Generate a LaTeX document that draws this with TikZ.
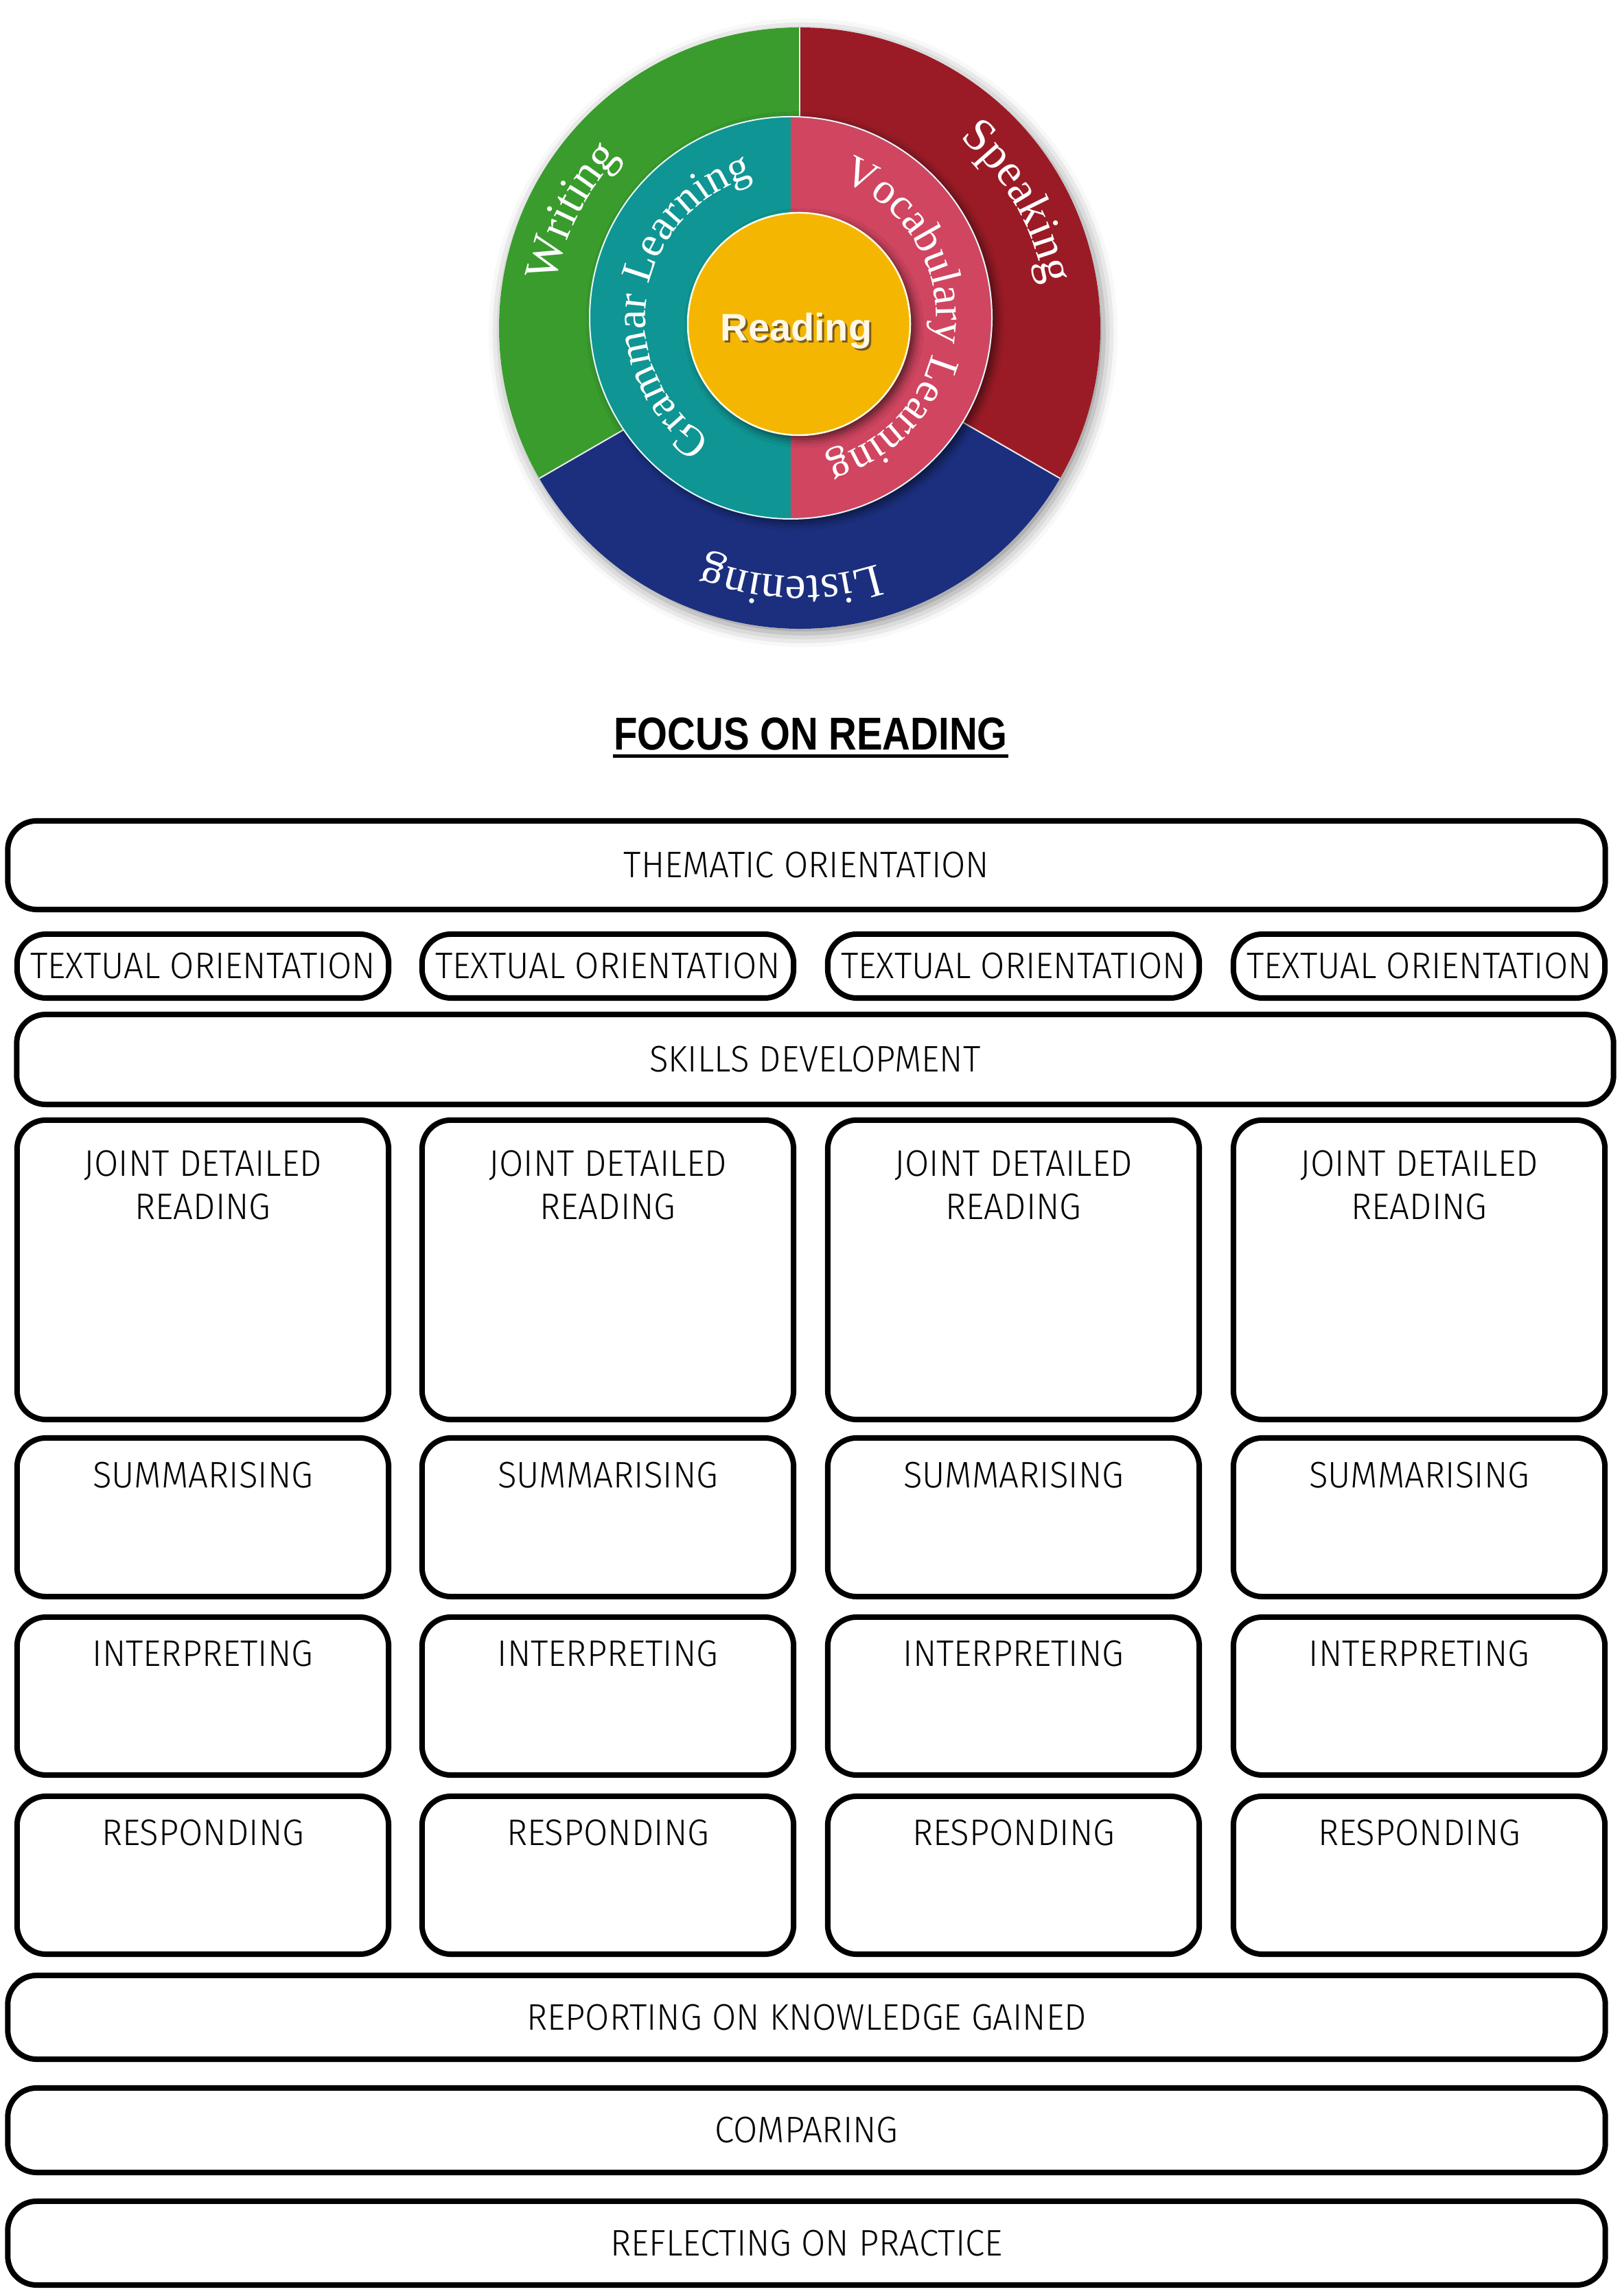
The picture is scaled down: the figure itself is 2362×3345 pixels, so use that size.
\documentclass[tikz,border=0pt]{standalone}
\usepackage{fontspec}
\setmainfont{Liberation Serif}
\newfontfamily\boxfont{Fira Sans Light}[FakeStretch=0.95]
\newfontfamily\titlefont{Liberation Sans}[FakeStretch=0.84]
\newfontfamily\readfont{Liberation Sans}
\usetikzlibrary{decorations.text,shadows.blur}
\definecolor{cgreen}{HTML}{399C2D}
\definecolor{cred}{HTML}{9A1B26}
\definecolor{cblue}{HTML}{1B2F7E}
\definecolor{cteal}{HTML}{0F9593}
\definecolor{cpink}{HTML}{D04560}
\definecolor{cyellow}{HTML}{F4B601}
\definecolor{ccream}{HTML}{FFF8E6}
\definecolor{cbrown}{HTML}{7A5A1E}
\newcommand\ringout{\rmfamily\fontsize{19.3pt}{20pt}\selectfont}
\newcommand\ringin{\rmfamily\fontsize{18pt}{19pt}\selectfont}
\begin{document}
\begin{tikzpicture}[x=0.01cm,y=0.01cm,
  box/.style={draw=black, line width=0.08cm, rounded corners=0.42cm, fill=white, inner sep=0pt,
    font=\boxfont\fontsize{15.3pt}{17.9pt}\selectfont, align=center},
  colbox/.style={box, minimum width=5.41cm},
  lbl/.style={font=\boxfont\fontsize{15.3pt}{17.9pt}\selectfont, inner sep=0pt, align=center, anchor=north},
  ringtext/.style={decorate, decoration={text along path, text align=center, text={#1}}},
]
\useasboundingbox (0,0) rectangle (2362,3345);

% ---------------- circle ----------------
\fill[white, blur shadow={shadow xshift=0.05cm, shadow yshift=-0.07cm, shadow blur radius=0.2cm, shadow opacity=45}]
  (1165,2867) circle[radius=438];
\fill[cgreen] (1165,2867) -- ++(90:438) arc[start angle=90, end angle=210, radius=438] -- cycle;
\fill[cred] (1165,2867) -- ++(-30:438) arc[start angle=-30, end angle=90, radius=438] -- cycle;
\fill[cblue] (1165,2867) -- ++(210:438) arc[start angle=210, end angle=330, radius=438] -- cycle;
\draw[white!85!gray, line width=0.02cm] (1165,2867) -- ++(90:438);
\draw[white!85!gray, line width=0.02cm] (1165,2867) -- ++(210:438);
\draw[white!85!gray, line width=0.02cm] (1165,2867) -- ++(330:438);

% inner ring
\fill[cteal, blur shadow={shadow xshift=0.07cm, shadow yshift=-0.05cm, shadow blur radius=0.12cm, shadow opacity=55}]
  (1152,2882) circle[radius=293];
\fill[cteal] (1152,2882) -- ++(90:293) arc[start angle=90, end angle=270, radius=293] -- cycle;
\fill[cpink] (1152,2882) -- ++(-90:293) arc[start angle=-90, end angle=90, radius=293] -- cycle;
\draw[white!90!cyan, line width=0.02cm] (1152,2882) circle[radius=293];

% yellow centre
\fill[cyellow, blur shadow={shadow xshift=0.07cm, shadow yshift=-0.06cm, shadow blur radius=0.12cm, shadow opacity=60}]
  (1164,2873) circle[radius=162];
\draw[white!90!yellow, line width=0.025cm] (1164,2873) circle[radius=162];

% ring texts
\path[ringtext={|\ringout\color{white}|Writing}]
  (1165,2867) ++(193:362) arc[start angle=193, end angle=113, radius=362];
\path[ringtext={|\ringout\color{white}|Speaking}]
  (1165,2867) ++(70:362) arc[start angle=70, end angle=-10, radius=362];
\path[ringtext={|\ringout\color{white}|Listening}]
  (1165,2867) ++(308:362) arc[start angle=308, end angle=228, radius=362];
\path[ringtext={|\ringin\color{white}|Grammar Learning}]
  (1152,2882) ++(255:212) arc[start angle=255, end angle=87, radius=212];
\path[ringtext={|\ringin\color{white}|Vocabulary Learning}]
  (1152,2882) ++(92:212) arc[start angle=92, end angle=-98, radius=212];

\node[font=\readfont\bfseries\fontsize{15.9pt}{16pt}\selectfont, text=cbrown, anchor=base, inner sep=0pt]
  (readsh) at (1163,2845) {Reading};
\node[font=\readfont\bfseries\fontsize{15.9pt}{16pt}\selectfont, text=ccream, anchor=base, inner sep=0pt]
  (reading) at (1160,2848) {Reading};

% ---------------- title ----------------
\node[font=\titlefont\bfseries\fontsize{19.1pt}{20pt}\selectfont, anchor=base, inner sep=0pt]
  (title) at (1181,2252) {FOCUS ON READING};
\draw[line width=0.05cm] ([yshift=-0.09cm]title.base west) -- ([yshift=-0.09cm]title.base east);

% ---------------- boxes ----------------
\node[box, minimum width=23.26cm, minimum height=1.29cm] (them) at (1175,2084.5) {THEMATIC ORIENTATION};

\node[colbox, minimum height=0.93cm] (tx1) at (295.5,1937.5) {TEXTUAL ORIENTATION};
\node[colbox, minimum height=0.93cm] (tx2) at (885.5,1937.5) {TEXTUAL ORIENTATION};
\node[colbox, minimum height=0.93cm] (tx3) at (1476.5,1937.5) {TEXTUAL ORIENTATION};
\node[colbox, minimum height=0.93cm] (tx4) at (2067.5,1937.5) {TEXTUAL ORIENTATION};

\node[box, minimum width=23.25cm, minimum height=1.31cm] (skills) at (1187.5,1801.5) {SKILLS DEVELOPMENT};

\foreach \i/\x in {1/295.5, 2/885.5, 3/1476.5, 4/2067.5} {
  \node[colbox, minimum height=4.36cm] (jd\i) at (\x,1495) {};
  \node[lbl] (jdt\i) at (\x,1670) {JOINT DETAILED\\READING};
  \node[colbox, minimum height=2.31cm] (su\i) at (\x,1134.5) {};
  \node[lbl] (sut\i) at (\x,1216) {SUMMARISING};
  \node[colbox, minimum height=2.30cm] (in\i) at (\x,874) {};
  \node[lbl] (int\i) at (\x,956) {INTERPRETING};
  \node[colbox, minimum height=2.30cm] (re\i) at (\x,613) {};
  \node[lbl] (ret\i) at (\x,695) {RESPONDING};
}

\node[box, minimum width=23.26cm, minimum height=1.22cm] (report) at (1175,406) {REPORTING ON KNOWLEDGE GAINED};
\node[box, minimum width=23.26cm, minimum height=1.23cm] (compare) at (1175,241.5) {COMPARING};
\node[box, minimum width=23.26cm, minimum height=1.22cm] (reflect) at (1175,77) {REFLECTING ON PRACTICE};
\end{tikzpicture}
\end{document}
